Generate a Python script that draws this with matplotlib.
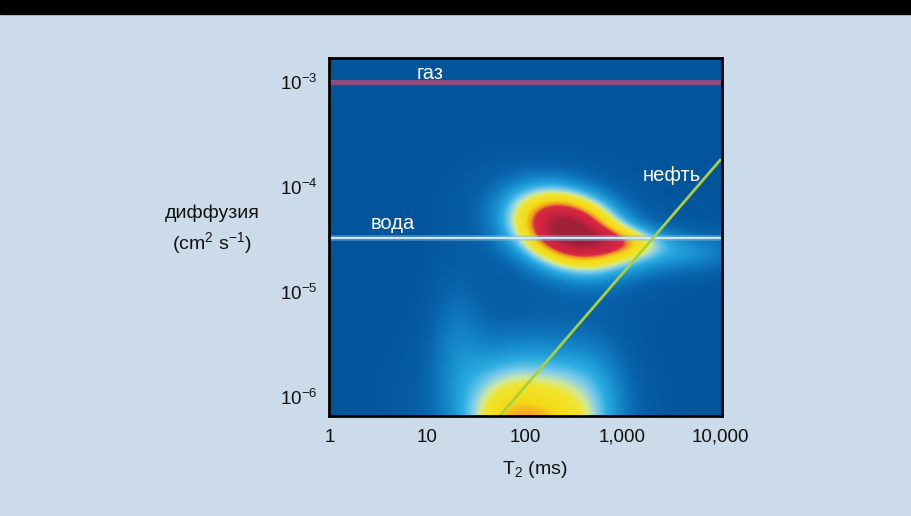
import numpy as np
import matplotlib
matplotlib.use("Agg")
import matplotlib.pyplot as plt
from matplotlib.colors import LinearSegmentedColormap
from matplotlib.patches import Rectangle

# --- data -------------------------------------------------------------
# density components in (log10 T2, log10 D) space
comp_u = [2.44, 3.00, 3.60, 2.40, 2.22, 1.75, 1.85, 1.30, 2.75]
comp_v = [-4.40, -4.52, -4.62, -4.42, -6.45, -6.30, -6.10, -5.45, -5.85]
comp_smaj = [0.40, 0.28, 0.50, 0.62, 0.46, 0.25, 0.65, 0.22, 0.25]
comp_smin = [0.24, 0.10, 0.15, 0.36, 0.55, 0.40, 0.50, 0.50, 0.35]
comp_ang = [-16.0, 0.0, 0.0, -16.0, 0.0, 0.0, 0.0, 0.0, 0.0]
comp_amp = [0.92, 0.26, 0.20, 0.12, 0.55, 0.18, 0.14, 0.12, 0.08]

gas_d = 1.0e-3
water_d = 3.3e-5
oil_t2 = [55.0, 10000.0]
oil_d = [6.6e-7, 1.8e-4]

xticks = [1, 10, 100, 1000, 10000]
xticklabels = ["1", "10", "100", "1,000", "10,000"]
yticks = [1e-6, 1e-5, 1e-4, 1e-3]
yticklabels = [r"$10^{-6}$", r"$10^{-5}$", r"$10^{-4}$", r"$10^{-3}$"]

# --- fonts ------------------------------------------------------------
fam = "Liberation Sans"
plt.rcParams["font.family"] = [fam, "DejaVu Sans"]
plt.rcParams["mathtext.fontset"] = "custom"
plt.rcParams["mathtext.rm"] = fam
plt.rcParams["mathtext.it"] = fam
plt.rcParams["mathtext.default"] = "regular"

bg = "#cbdbea"
fig = plt.figure(figsize=(9.11, 5.16), dpi=100, facecolor=bg)
fig.patches.append(Rectangle((0, 1 - 14 / 516), 1, 14 / 516, transform=fig.transFigure,
                             color="black", zorder=0))

ax = fig.add_axes([329 / 911, 1 - 416 / 516, 393 / 911, 358 / 516])
ax.set_xscale("log")
ax.set_yscale("log")

umin, umax = -0.01, 4.02
vmin, vmax = -6.181, -2.771

u = np.linspace(umin, umax, 420)
v = np.linspace(vmin, vmax, 380)
U, V = np.meshgrid(u, v)
field = np.zeros_like(U)
for cu, cv, sa, sb, ang, amp in zip(comp_u, comp_v, comp_smaj, comp_smin, comp_ang, comp_amp):
    t = np.deg2rad(ang)
    du, dv = U - cu, V - cv
    a = du * np.cos(t) + dv * np.sin(t)
    b = -du * np.sin(t) + dv * np.cos(t)
    field += amp * np.exp(-0.5 * ((a / sa) ** 2 + (b / sb) ** 2))

cmap = LinearSegmentedColormap.from_list("nmr", [
    (0.00, "#03559b"),
    (0.08, "#0863ab"),
    (0.18, "#1486c8"),
    (0.28, "#2bade2"),
    (0.36, "#86d0ea"),
    (0.42, "#d4ea9c"),
    (0.47, "#f0e632"),
    (0.60, "#f5da16"),
    (0.68, "#f09a28"),
    (0.74, "#d82a42"),
    (0.88, "#cc2240"),
    (1.00, "#a02038"),
])

ax.pcolormesh(10 ** U, 10 ** V, field, cmap=cmap, vmin=0, vmax=1,
              shading="gouraud", rasterized=True)

# lines
ax.axhline(gas_d, color="#8e4d80", lw=3.8, zorder=3)
ax.axhline(water_d, color="#7fbfe8", lw=4, alpha=0.5, zorder=3)
ax.axhline(water_d, color="#cfe6f8", lw=1.5, zorder=3)
ax.plot(oil_t2, oil_d, color="#a8d040", lw=2, zorder=4)

ax.set_xlim(10 ** umin, 10 ** umax)
ax.set_ylim(10 ** vmin, 10 ** vmax)

ax.text(10.6, 10 ** -2.914, "газ", color="white", fontsize=14.5, ha="center", va="center")
ax.text(4.4, 10 ** -4.343, "вода", color="white", fontsize=14.5, ha="center", va="center")
ax.text(3230, 10 ** -3.886, "нефть", color="white", fontsize=14.5, ha="center", va="center")

ax.set_xticks(xticks)
ax.set_xticklabels(xticklabels)
ax.set_yticks(yticks)
ax.set_yticklabels(yticklabels)
ax.minorticks_off()
ax.tick_params(length=0, labelsize=13.5, colors="#111111")
ax.tick_params(axis="x", pad=9)
ax.tick_params(axis="y", pad=8)

for s in ax.spines.values():
    s.set_linewidth(2)
    s.set_color("black")
    s.set_zorder(5)

fig.text(212 / 911, 1 - 230 / 516, "диффузия\n(cm$^2$ s$^{-1}$)", fontsize=14,
         ha="center", va="center", linespacing=1.45, color="#111111")
fig.text(535 / 911, 1 - 470 / 516, "T$_2$ (ms)", fontsize=14,
         ha="center", va="center", color="#111111")

fig.savefig("out.png", dpi=100, facecolor=bg)
